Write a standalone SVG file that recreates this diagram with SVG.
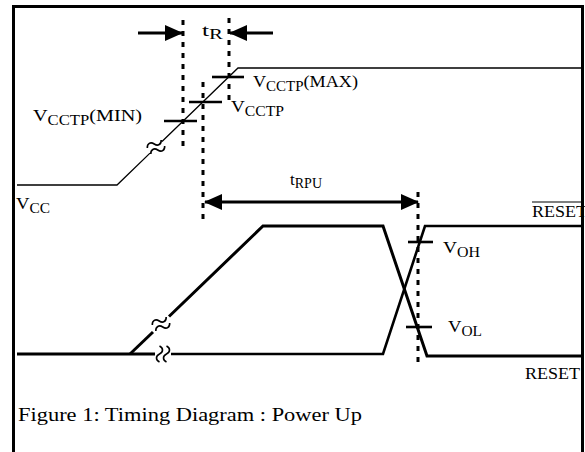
<svg xmlns="http://www.w3.org/2000/svg" width="585" height="452" viewBox="0 0 585 452">
<style>
  .bg { fill: #ffffff; }
  .frame { fill: none; stroke: #000; stroke-width: 3; }
  .thin { fill: none; stroke: #000; stroke-width: 1.3; stroke-linejoin: miter; }
  .wave { fill: none; stroke: #000; stroke-width: 3; stroke-linejoin: miter; }
  .wave2 { fill: none; stroke: #000; stroke-width: 2.6; stroke-linejoin: miter; }
  .tick { stroke: #000; stroke-width: 2.6; }
  .dots { stroke: #000; stroke-width: 3; stroke-dasharray: 5 6; }
  .arr { stroke: #000; stroke-width: 3; fill: none; }
  .brk { fill: none; stroke: #000; stroke-width: 1.6; }
  text { font-family: "Liberation Serif", "Times New Roman", serif; font-size: 17px; fill: #000; }
  .sub { font-size: 14px; }
  .cap { font-size: 18px; }
  .ov { stroke: #000; stroke-width: 1.2; }
</style>
<defs>
  <marker id="ah" markerWidth="18" markerHeight="16" refX="17" refY="8" orient="auto-start-reverse" markerUnits="userSpaceOnUse">
    <path d="M0,0 L18,8 L0,16 Z" fill="#000"/>
  </marker>
  <g id="brk">
    <path class="brk" d="M-3.5,-8 C0.5,-6 0.5,-2 -3.5,0 C-7.5,2 -7.5,6 -3.5,8"/>
    <path class="brk" d="M3.5,-8 C7.5,-6 7.5,-2 3.5,0 C-0.5,2 -0.5,6 3.5,8"/>
  </g>
</defs>
<rect class="bg" x="0" y="0" width="585" height="452"/>

<g id="vcc-wave">
  <polyline class="thin" points="17,185 117,185 150,153.1"/>
  <polyline class="thin" points="162,141.5 238,68 582,68"/>
  <use href="#brk" transform="translate(156,147) rotate(60)"/>
</g>

<g id="reset-waves">
  <polyline class="wave" points="17,354 155,354"/>
  <polyline class="wave" points="130,354 153,332"/>
  <polyline class="wave" points="169,316.5 263,226 383,226 427,356 582,356"/>
  <polyline class="wave2" points="171,354 383,354 425,226 582,226"/>
  <use href="#brk" transform="translate(163,354)"/>
  <use href="#brk" transform="translate(161,324) rotate(60)"/>
</g>

<g id="thresholds">
  <line class="tick" x1="164" y1="121" x2="197" y2="121"/>
  <line class="tick" x1="189" y1="102" x2="222" y2="102"/>
  <line class="tick" x1="212" y1="77" x2="244" y2="77"/>
  <line class="tick" x1="408" y1="242" x2="433" y2="242"/>
  <line class="tick" x1="406" y1="327" x2="432" y2="327"/>
</g>

<g id="connectors">
  <line class="dots" x1="183" y1="20" x2="183" y2="152"/>
  <line class="dots" x1="229" y1="18" x2="229" y2="100"/>
  <line class="dots" x1="203" y1="82" x2="203" y2="222"/>
  <line class="dots" x1="418" y1="192" x2="418" y2="367"/>
  <line class="arr" x1="138" y1="33" x2="182" y2="33" marker-end="url(#ah)"/>
  <line class="arr" x1="273" y1="33" x2="230" y2="33" marker-end="url(#ah)"/>
  <line class="arr" x1="205" y1="202" x2="418" y2="202" marker-start="url(#ah)" marker-end="url(#ah)"/>
</g>

<g id="labels">
  <text x="202" y="36" textLength="21" lengthAdjust="spacingAndGlyphs">t<tspan class="sub" dy="3">R</tspan></text>
  <text x="253" y="87" textLength="105" lengthAdjust="spacingAndGlyphs">V<tspan class="sub" dy="4">CCTP</tspan><tspan dy="-4">(MAX)</tspan></text>
  <text x="231" y="112" textLength="53" lengthAdjust="spacingAndGlyphs">V<tspan class="sub" dy="4">CCTP</tspan></text>
  <text x="33" y="121" textLength="109" lengthAdjust="spacingAndGlyphs">V<tspan class="sub" dy="4">CCTP</tspan><tspan dy="-4">(MIN)</tspan></text>
  <text x="16" y="209" textLength="34" lengthAdjust="spacingAndGlyphs">V<tspan class="sub" dy="4">CC</tspan></text>
  <text x="290" y="185" textLength="32" lengthAdjust="spacingAndGlyphs">t<tspan class="sub" dy="3">RPU</tspan></text>
  <text x="532" y="217" textLength="55" lengthAdjust="spacingAndGlyphs">RESET</text>
  <line class="ov" x1="532" y1="202" x2="582" y2="202"/>
  <text x="443" y="253" textLength="37" lengthAdjust="spacingAndGlyphs">V<tspan class="sub" dy="4">OH</tspan></text>
  <text x="448" y="332" textLength="34" lengthAdjust="spacingAndGlyphs">V<tspan class="sub" dy="4">OL</tspan></text>
  <text x="525" y="379" textLength="55" lengthAdjust="spacingAndGlyphs">RESET</text>
  <text class="cap" x="18" y="421" textLength="344" lengthAdjust="spacingAndGlyphs">Figure 1: Timing Diagram : Power Up</text>
</g>

<g id="frame">
  <path class="frame" d="M13.5,452 V6.5 H582.5 V452"/>
</g>
</svg>
